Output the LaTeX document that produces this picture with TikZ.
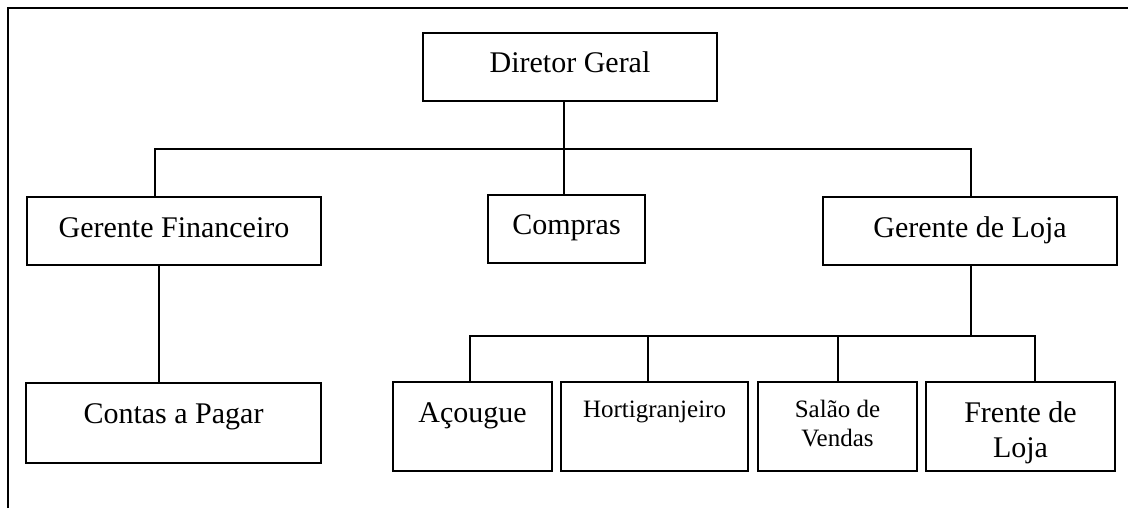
\documentclass[tikz,border=0pt]{standalone}
\usepackage{fontspec}
\setmainfont{Liberation Serif}
\usepackage{tikz}

\begin{document}
\begin{tikzpicture}[x=0.5pt,y=-0.5pt,line width=1pt]
	\tikzstyle{every node}+=[inner sep=0pt]
	\tikzstyle{orgbox}=[draw=black, rectangle, align=center, font=\fontsize{15}{17.5}\selectfont]
	\tikzstyle{orgsmall}=[orgbox, font=\fontsize{12.5}{14.5}\selectfont]
	\useasboundingbox (0,0) rectangle (1128,508);
	\draw [black] (7.5,508) -- (7.5,8) -- (1128,8);
	% boxes
	\node [orgbox, minimum width=147pt, minimum height=34pt, text height=10pt, text depth=4pt] (diretor) at (570,67) {Diretor Geral};
	\node [orgbox, minimum width=147pt, minimum height=34pt, text height=10pt, text depth=4pt] (gfin) at (174,231) {Gerente Financeiro};
	\node [orgbox, minimum width=78.5pt, minimum height=34pt, text height=10pt, text depth=5pt] (compras) at (566.5,229) {Compras};
	\node [orgbox, minimum width=147pt, minimum height=34pt, text height=10pt, text depth=4pt] (gloja) at (970,231) {Gerente de Loja};
	\node [orgbox, minimum width=147.5pt, minimum height=40pt, text height=10pt, text depth=10pt] (contas) at (173.5,423) {Contas a Pagar};
	\node [orgbox, minimum width=79.5pt, minimum height=44.5pt, text height=10pt, text depth=14.5pt] (acougue) at (472.5,426.5) {Açougue};
	\node [orgsmall, minimum width=93.5pt, minimum height=44.5pt, text height=9pt, text depth=18.5pt] (horti) at (654.5,426.5) {Hortigranjeiro};
	\node [orgsmall, minimum width=79.5pt, minimum height=44.5pt, text height=24.5pt, text depth=5pt] (salao) at (837.5,426.5) {Salão de\\Vendas};
	\node [orgbox, minimum width=94.5pt, minimum height=44.5pt, text height=33.5pt, text depth=3pt] (frente) at (1020.5,426.5) {Frente de\\Loja};
	% connectors
	\coordinate (busA) at (0,149);
	\coordinate (busB) at (0,336);
	\draw ([xshift=-3pt]diretor.south) -- ([xshift=-3pt]diretor.south |- compras.north);
	\draw ([xshift=-9.5pt]gfin.north) -- ([xshift=-9.5pt]gfin.north |- busA) -| ([xshift=0.5pt]gloja.north);
	\draw ([xshift=-7.5pt]gfin.south) -- ([xshift=-7.5pt]gfin.south |- contas.north);
	\draw ([xshift=0.5pt]gloja.south) -- ([xshift=0.5pt]gloja.south |- busB);
	\draw ([xshift=-1.25pt]acougue.north) -- ([xshift=-1.25pt]acougue.north |- busB) -| ([xshift=7.25pt]frente.north);
	\draw ([xshift=-3.25pt]horti.north) -- ([xshift=-3.25pt]horti.north |- busB);
	\draw (salao.north) -- (salao.north |- busB);
\end{tikzpicture}
\end{document}
